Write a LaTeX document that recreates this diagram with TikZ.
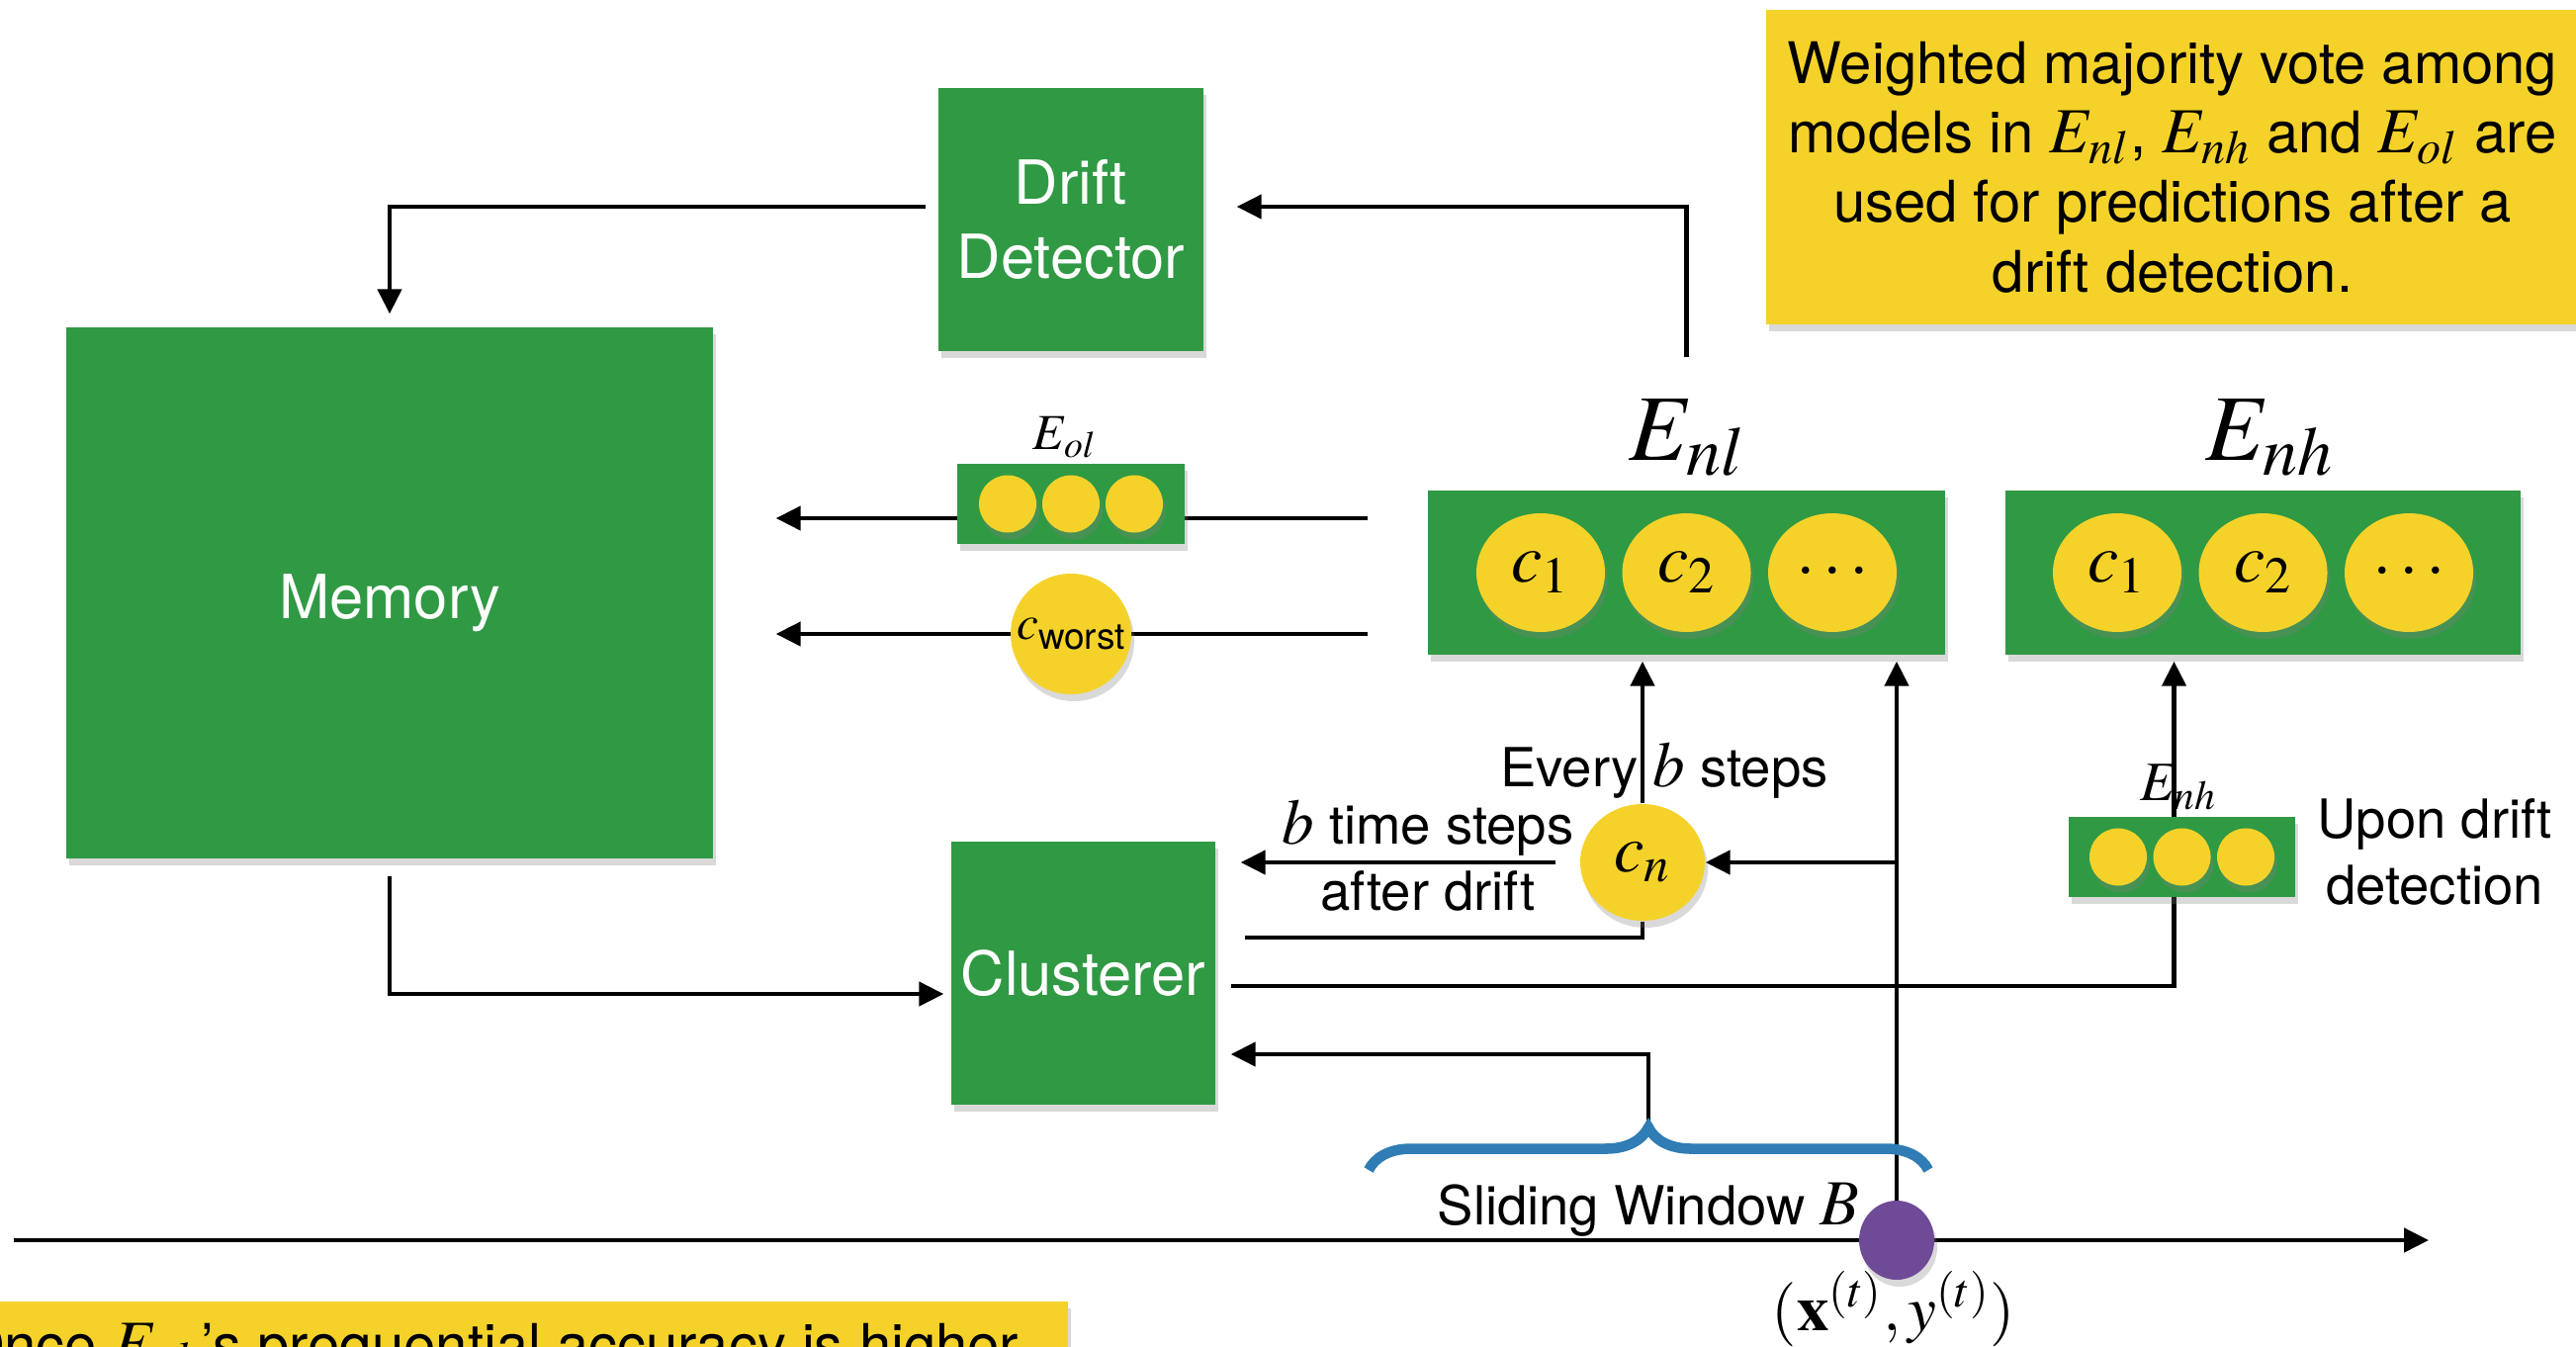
\documentclass[tikz,border=0pt]{standalone}
\usepackage{mathptmx}
\usepackage[no-math]{fontspec}
\setmainfont{TeX Gyre Heros}
\usetikzlibrary{arrows.meta,shapes.geometric,shadows,backgrounds,decorations.pathreplacing}

\definecolor{boxgreen}{RGB}{48,153,67}
\definecolor{noteyellow}{RGB}{245,210,42}
\definecolor{pointpurple}{RGB}{111,74,150}
\definecolor{braceblue}{RGB}{47,125,180}

\newcommand{\mth}[1]{{\fontsize{18.5}{18.5}\selectfont$#1$}}

\tikzset{
  softshadow/.style={drop shadow={opacity=0.3,shadow xshift=0.3mm,shadow yshift=-0.7mm}},
  box/.style={rectangle, fill=boxgreen, text=white, inner sep=0pt, align=center, font=\fontsize{17.5}{21.3}\selectfont, softshadow},
  model/.style={ellipse, fill=noteyellow, inner sep=0pt, minimum width=1.3cm, minimum height=1.2cm, font=\fontsize{20}{20}\selectfont, softshadow},
  member/.style={circle, fill=noteyellow, inner sep=0pt, minimum size=0.58cm, softshadow},
  lbl/.style={inner sep=0pt, font=\fontsize{15.5}{19}\selectfont},
  note/.style={fill=noteyellow, softshadow, font=\fontsize{16.5}{20}\selectfont},
  arr/.style={-{Triangle[length=2.5mm,width=2.4mm]}, line width=1.3pt},
  wire/.style={line width=1.3pt},
  winbrace/.style={decorate, decoration={brace, amplitude=4.3mm}, line width=3pt, draw=braceblue},
}

\begin{document}
\begin{tikzpicture}
\useasboundingbox (0,0) rectangle (26.05,13.61);
\clip (0,0) rectangle (26.05,13.61);

% main blocks
\node[box, minimum width=6.54cm, minimum height=5.37cm] (mem) at (3.94,7.615) {\raisebox{-2.6mm}[0pt][0pt]{Memory}};
\node[box, minimum width=2.68cm, minimum height=2.66cm] (dd) at (10.83,11.39) {Drift\\Detector};
\node[box, minimum width=2.67cm, minimum height=2.66cm] (clu) at (10.955,3.77) {Clusterer};

% ensembles
\node[box, minimum width=5.23cm, minimum height=1.66cm] (enl) at (17.055,7.82) {};
\node[box, minimum width=5.21cm, minimum height=1.66cm] (enh) at (22.885,7.82) {};
\foreach \x/\n/\lab in {-1.475/1/c_1, 0/2/c_2, 1.475/3/\cdots}{
  \node[model] (enl\n) at ([xshift=\x cm]enl.center) {$\lab$};
  \node[model] (enh\n) at ([xshift=\x cm]enh.center) {$\lab$};
}
\node[font=\fontsize{27}{27}\selectfont, anchor=base] (enllab) at (17.06,8.96) {$E_{nl}$};
\node[font=\fontsize{27}{27}\selectfont, anchor=base] (enhlab) at (22.95,8.96) {$E_{nh}$};

% old ensemble and worst model
\node[box, minimum width=2.30cm, minimum height=0.81cm] (eol) at (10.83,8.515) {};
\foreach \x/\n in {-0.64/1, 0/2, 0.64/3}
  \node[member] (eol\n) at ([xshift=\x cm]eol.center) {};
\node[font=\fontsize{14.5}{14.5}\selectfont, anchor=base] (eollab) at (10.77,9.07) {$E_{ol}$};
\node[member, minimum size=1.22cm] (cw) at (10.83,7.20) {{\fontsize{14}{14}\selectfont$c$}\raisebox{-3pt}{\fontsize{10.5}{10.5}\selectfont worst}};

% candidate
\node[model, minimum width=1.26cm, minimum height=1.18cm, font=\fontsize{19.5}{19.5}\selectfont] (cn) at (16.61,4.89) {$c_n$};

% copy of E_nh
\node[box, minimum width=2.29cm, minimum height=0.81cm] (enhs) at (22.065,4.945) {};
\foreach \x/\n in {-0.645/1, 0/2, 0.645/3}
  \node[member] (enhs\n) at ([xshift=\x cm]enhs.center) {};
\node[font=\fontsize{16}{16}\selectfont, anchor=base] (enhslab) at (22.03,5.52) {$E_{nh}$};

% data point on the stream
\node[ellipse, fill=pointpurple, minimum width=0.76cm, minimum height=0.80cm, inner sep=0pt, softshadow] (dot) at (19.18,1.07) {};
\node[font=\fontsize{18.5}{18.5}\selectfont, anchor=base] (xy) at (19.15,0.16) {$(\mathbf{x}^{(t)},y^{(t)})$};

\node[lbl, anchor=base] (every) at (16.83,5.66) {Every \mth{b} steps};
\node[lbl, anchor=base] (btime) at (14.44,5.08) {\mth{b} time steps};
\node[lbl, anchor=base] (after) at (14.44,4.41) {after drift};
\node[lbl, anchor=base, align=center] (upon) at (24.62,4.47) {Upon drift\\detection};
\node[lbl, anchor=base] (window) at (16.67,1.23) {Sliding Window \mth{B}};

% notes
\node[note, align=center, minimum width=8.22cm, minimum height=3.18cm, inner sep=0pt] (vote) at (21.97,11.92) {Weighted majority vote among\\models in \mth{E_{nl}}, \mth{E_{nh}} and \mth{E_{ol}} are\\used for predictions after a\\drift detection.};
\node[note, anchor=base east, inner xsep=5mm, inner ysep=2.1mm, text height=4.3mm] (once) at (10.81,-0.19) {Once \mth{E_{nh}}'s prequential accuracy is higher};

\coordinate (eolin) at ([xshift=-6mm,yshift=5.5mm]enl.west);
\coordinate (cwin) at ([xshift=-6mm,yshift=-6.2mm]enl.west);
\coordinate (wl) at (13.84,1.78);
\coordinate (wr) at (19.50,1.78);
\coordinate (wtop) at (16.67,2.17);
\coordinate (t0) at (0.14,1.07);
\coordinate (t1) at (24.56,1.07);

\begin{scope}[on background layer]
\draw[arr] ([xshift=-1.2mm,yshift=1.3mm]dd.west) -| ([yshift=1.3mm]mem.north);
\draw[arr] ([yshift=13.4mm]enl.north) |- ([xshift=3.3mm,yshift=1.3mm]dd.east);
\draw[arr, shorten >=6.3mm] (eolin) -- (eolin -| mem.east);
\draw[arr, shorten >=6.3mm] (cwin) -- (cwin -| mem.east);
\draw[arr] ([yshift=-1.7mm]mem.south) |- ([xshift=-0.7mm,yshift=-2.1mm]clu.west);
\draw[arr, shorten <=2.4mm, shorten >=2.5mm] (cn.west) -- (cn.west -| clu.east);
\draw[wire] (cn.south) |- ([xshift=2.9mm,yshift=3.6mm]clu.east);
\draw[arr] ([xshift=1.5mm,yshift=-1.3mm]clu.east) -| ([xshift=-9mm,yshift=-0.6mm]enh.south);
\draw[arr] (wtop) |- ([xshift=1.5mm,yshift=-8.2mm]clu.east);
\draw[arr, shorten >=0.6mm] (cn.north) -- (cn.north |- enl.south);
\draw[arr, shorten >=0.6mm] (dot.center) -- (dot |- enl.south);
\draw[arr] (dot |- cn) -- (cn.east);
\draw[arr] (t0) -- (t1);
\draw[winbrace] (wl) -- (wr);
\end{scope}

\end{tikzpicture}
\end{document}
